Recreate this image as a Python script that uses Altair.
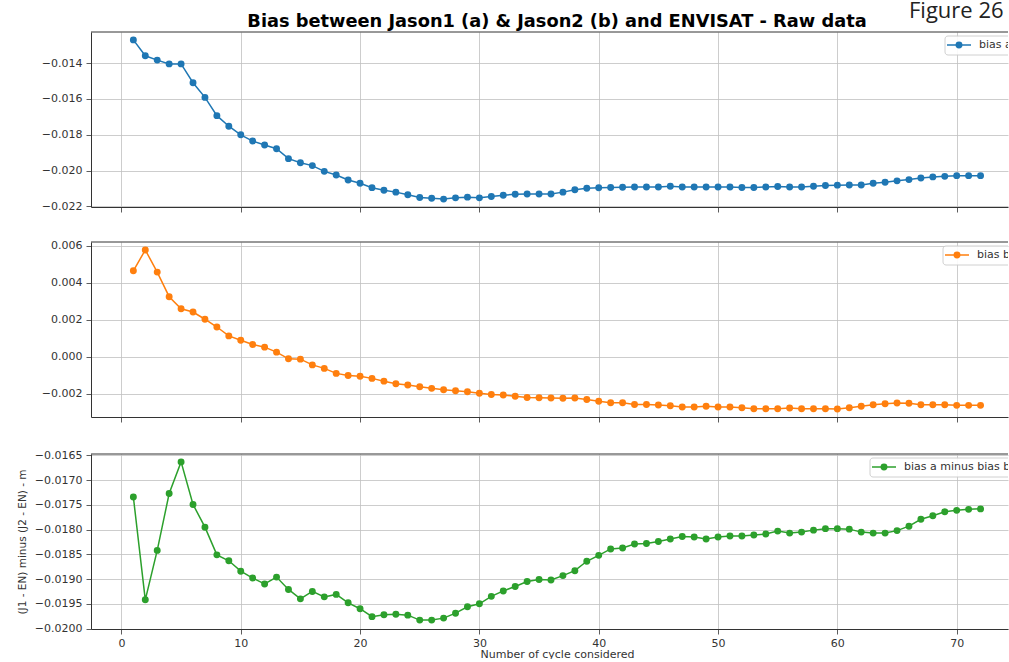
import altair as alt
import pandas as pd

cycles = list(range(1, 73))

bias_a = [
    -0.01270, -0.01359, -0.01383, -0.01404, -0.01404, -0.01509, -0.01591, -0.01693, -0.01752, -0.01800,
    -0.01835, -0.01857, -0.01878, -0.01933, -0.01956, -0.01972, -0.02004, -0.02024, -0.02052, -0.02070,
    -0.02095, -0.02109, -0.02120, -0.02135, -0.02150, -0.02154, -0.02159, -0.02152, -0.02148, -0.02152,
    -0.02144, -0.02137, -0.02132, -0.02130, -0.02130, -0.02130, -0.02120, -0.02107, -0.02098, -0.02096,
    -0.02094, -0.02093, -0.02091, -0.02091, -0.02091, -0.02087, -0.02091, -0.02091, -0.02091, -0.02091,
    -0.02091, -0.02094, -0.02094, -0.02091, -0.02089, -0.02091, -0.02091, -0.02087, -0.02083, -0.02081,
    -0.02080, -0.02080, -0.02070, -0.02065, -0.02057, -0.02050, -0.02041, -0.02035, -0.02032, -0.02028,
    -0.02028, -0.02028,
]

bias_b = [
    0.00465, 0.00578, 0.00458, 0.00325, 0.00260, 0.00242, 0.00203, 0.00161, 0.00113, 0.00089,
    0.00066, 0.00052, 0.00025, -0.00011, -0.00013, -0.00044, -0.00063, -0.00090, -0.00101, -0.00105,
    -0.00117, -0.00132, -0.00146, -0.00153, -0.00162, -0.00171, -0.00179, -0.00184, -0.00189, -0.00197,
    -0.00204, -0.00207, -0.00214, -0.00220, -0.00222, -0.00223, -0.00225, -0.00223, -0.00231, -0.00241,
    -0.00249, -0.00249, -0.00258, -0.00258, -0.00261, -0.00265, -0.00272, -0.00272, -0.00268, -0.00272,
    -0.00272, -0.00276, -0.00281, -0.00281, -0.00281, -0.00277, -0.00281, -0.00281, -0.00281, -0.00283,
    -0.00276, -0.00268, -0.00260, -0.00254, -0.00250, -0.00252, -0.00260, -0.00260, -0.00260, -0.00263,
    -0.00263, -0.00263,
]

bias_diff = [
    -0.01734, -0.01942, -0.01842, -0.01727, -0.01663, -0.01749, -0.01795, -0.01851, -0.01863, -0.01884,
    -0.01898, -0.01910, -0.01896, -0.01921, -0.01940, -0.01925, -0.01936, -0.01931, -0.01948, -0.01960,
    -0.01976, -0.01972, -0.01971, -0.01973, -0.01983, -0.01983, -0.01979, -0.01969, -0.01956, -0.01950,
    -0.01935, -0.01924, -0.01915, -0.01905, -0.01901, -0.01902, -0.01893, -0.01883, -0.01864, -0.01852,
    -0.01839, -0.01837, -0.01829, -0.01828, -0.01824, -0.01819, -0.01814, -0.01815, -0.01819, -0.01815,
    -0.01813, -0.01813, -0.01811, -0.01809, -0.01803, -0.01807, -0.01805, -0.01801, -0.01798, -0.01798,
    -0.01799, -0.01805, -0.01807, -0.01807, -0.01802, -0.01793, -0.01779, -0.01772, -0.01764, -0.01761,
    -0.01759, -0.01758,
]

series_names = ["bias a", "bias b", "bias a minus bias b"]
series_colors = ["#1f77b4", "#ff7f0e", "#2ca02c"]

x_ticks = [0, 10, 20, 30, 40, 50, 60, 70]
y_ticks_a = [-0.022, -0.020, -0.018, -0.016, -0.014]
y_ticks_b = [-0.002, 0.000, 0.002, 0.004, 0.006]
y_ticks_d = [-0.0200, -0.0195, -0.0190, -0.0185, -0.0180, -0.0175, -0.0170, -0.0165]

title_text = ["Bias between Jason1 (a) & Jason2 (b) and ENVISAT - Raw data"]
x_title = "Number of cycle considered"
y_title = "(J1 - EN) minus (J2 - EN) - m"
fig_label = ["Figure 26"]

FONT = "DejaVu Sans"
W = 917
H = 175
X_DOMAIN = [-2.55, 74.3]
GRID = "#c0c0c0"
DARK = "#333333"


def panel(values, name, color, yticks, ydomain, fmt, last, legend_x0, extras=()):
    df = pd.DataFrame({"cycle": cycles, "value": values})
    xaxis_kw = dict(
        values=x_ticks, grid=True, gridColor=GRID, gridWidth=0.8,
        domain=True, domainColor=DARK, domainWidth=1,
        ticks=True, tickColor=DARK, tickSize=5, tickWidth=0.8,
        labels=last, labelFont=FONT, labelFontSize=11, labelColor=DARK, labelPadding=3,
    )
    if last:
        xaxis_kw.update(titleFont=FONT, titleFontSize=11, titleFontWeight="normal",
                        titleColor=DARK, titlePadding=0, titleX=466)
    yaxis_kw = dict(
        values=yticks, format=fmt, grid=True, gridColor=GRID, gridWidth=0.8,
        domain=True, domainColor=DARK, domainWidth=1,
        ticks=True, tickColor=DARK, tickSize=5, tickWidth=0.8,
        labelFont=FONT, labelFontSize=11, labelColor=DARK, labelPadding=4,
    )
    if last:
        yaxis_kw.update(titleFont=FONT, titleFontSize=10.5, titleFontWeight="normal",
                        titleColor=DARK, titlePadding=7)

    x_enc = alt.X("cycle:Q", scale=alt.Scale(domain=X_DOMAIN, nice=False, zero=False),
                  axis=alt.Axis(**xaxis_kw), title=x_title if last else None)
    y_enc = alt.Y("value:Q", scale=alt.Scale(domain=ydomain, nice=False, zero=False),
                  axis=alt.Axis(**yaxis_kw), title=y_title if last else None)

    line = alt.Chart(df).mark_line(
        color=color, strokeWidth=1.5, clip=True,
        point=alt.OverlayMarkDef(filled=True, size=48, color=color, opacity=1),
    ).encode(x=x_enc, y=y_enc)

    top_spine = alt.Chart(pd.DataFrame({"k": [0]})).mark_rule(
        color=DARK, strokeWidth=1
    ).encode(x=alt.value(0), x2=alt.value(W), y=alt.value(0))

    leg = pd.DataFrame({"label": [name]})
    box = alt.Chart(leg).mark_rect(
        fill="white", stroke="#cccccc", strokeWidth=1, cornerRadius=3, clip=True, opacity=0.9
    ).encode(x=alt.value(legend_x0), x2=alt.value(W + 20), y=alt.value(4), y2=alt.value(23))
    leg_rule = alt.Chart(leg).mark_rule(color=color, strokeWidth=1.5).encode(
        x=alt.value(legend_x0 + 2), x2=alt.value(legend_x0 + 26), y=alt.value(13))
    leg_pt = alt.Chart(leg).mark_point(filled=True, size=48, color=color, opacity=1).encode(
        x=alt.value(legend_x0 + 14), y=alt.value(13))
    leg_txt = alt.Chart(leg).mark_text(
        align="left", baseline="middle", font=FONT, fontSize=11, color=DARK, clip=True
    ).encode(x=alt.value(legend_x0 + 34), y=alt.value(13), text="label:N")

    layers = [line, top_spine, box, leg_rule, leg_pt, leg_txt] + list(extras)
    return alt.layer(*layers).properties(width=W, height=H)


fig_txt = alt.Chart(pd.DataFrame({"t": fig_label})).mark_text(
    align="left", baseline="top", font="Open Sans", fontSize=22, color="#222222"
).encode(x=alt.value(818), y=alt.value(-31), text="t:N")

main_title = alt.Chart(pd.DataFrame({"t": title_text})).mark_text(
    align="center", baseline="alphabetic", font=FONT, fontSize=17.8, fontWeight="bold", color="black"
).encode(x=alt.value(466), y=alt.value(-5), text="t:N")

p1 = panel(bias_a, series_names[0], series_colors[0], y_ticks_a, [-0.02203, -0.01226], ".3f", False, 854,
           extras=(fig_txt, main_title))
p2 = panel(bias_b, series_names[1], series_colors[1], y_ticks_b, [-0.00326, 0.00621], ".3f", False, 852)
p3 = panel(bias_diff, series_names[2], series_colors[2], y_ticks_d, [-0.02001, -0.01647], ".4f", True, 779)

chart = alt.vconcat(p1, p2, p3, spacing=26).properties(
    padding={"left": 17, "top": 0, "right": 0, "bottom": 0},
    background="white",
).configure_view(strokeWidth=0)

chart.save("out.html", embed_options={"renderer": "svg", "actions": False})
